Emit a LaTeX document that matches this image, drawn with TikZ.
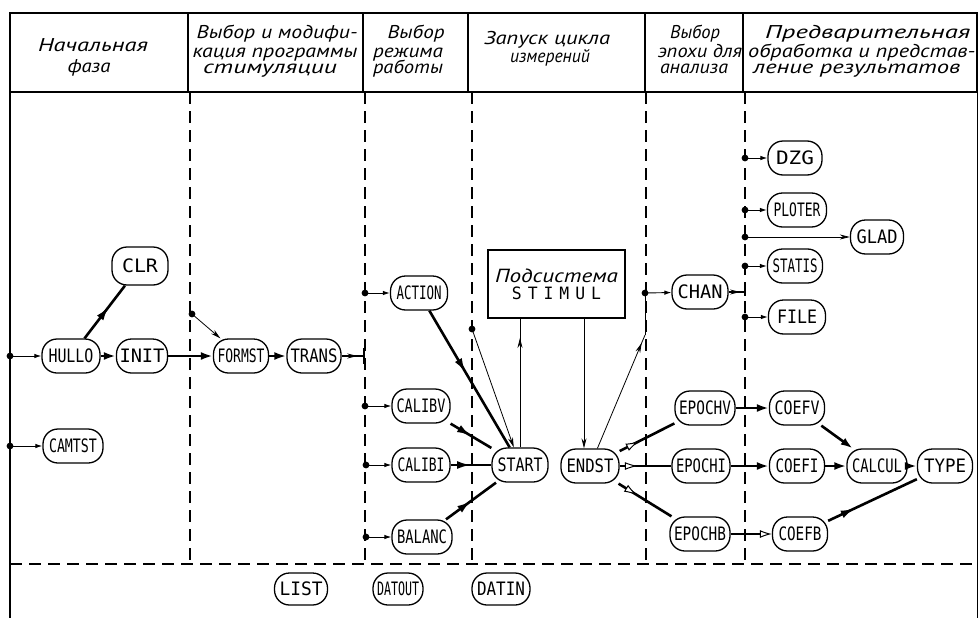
\documentclass[tikz,border=0pt]{standalone}
\usepackage{fontspec}
\usetikzlibrary{arrows.meta,decorations.markings}
\newfontfamily\hdrfont{PT Sans}
\newfontfamily\labfont{DejaVu Sans Mono}
\newfontfamily\stimfont[LetterSpace=35]{DejaVu Sans Mono}
\newsavebox\fitbox
\newcommand{\fitw}[2]{\sbox\fitbox{#2}\pgfmathsetmacro\fitf{#1/\wd\fitbox}\edef\fitcmd{\noexpand\addfontfeature{FakeStretch=\fitf}}{\fitcmd #2}}
\tikzset{
  box/.style={draw, line width=1.3pt, rounded corners=15pt, minimum width=56pt,
    minimum height=34pt, inner xsep=2pt, inner ysep=1pt, font=\labfont\fontsize{18.5}{18}\selectfont},
  hl/.style={anchor=base, inner sep=0pt, font=\hdrfont\itshape\fontsize{18.5}{18}\selectfont},
  hlw/.style={anchor=base west, inner sep=0pt, font=\hdrfont\itshape\fontsize{18.5}{18}\selectfont},
  thk/.style={line width=2.6pt},
  thn/.style={line width=0.8pt},
  med/.style={line width=1.3pt},
  endarr/.style={-{Latex[length=12pt,width=8pt]}},
  endhol/.style={-{Latex[fill=white,length=12pt,width=8pt,line width=1pt]}},
  endthin/.style={-{Stealth[length=10pt,width=5pt]}},
  marrow/.style={postaction={decorate}, decoration={markings,
    mark=at position #1 with {\arrow{Latex[length=14pt,width=8pt]}}}},
  harrow/.style={postaction={decorate}, decoration={markings,
    mark=at position #1 with {\arrow{Latex[fill=white,length=13pt,width=8pt,line width=1pt]}}}},
  tarrow/.style={postaction={decorate}, decoration={markings,
    mark=at position #1 with {\arrow{Stealth[length=10pt,width=5pt]}}}},
  dotln/.style={line width=0.9pt, -{Latex[length=7pt,width=4.5pt]}},
  dashln/.style={line width=1.1pt, dash pattern=on 12pt off 7pt},
  frame/.style={line width=1.4pt}
}
\begin{document}
\begin{tikzpicture}[x=1pt,y=-1pt]
\useasboundingbox (0,0) rectangle (979,618);
\fill[white] (0,0) rectangle (979,618);
% frame
\draw[frame] (10,13) rectangle (977,92);
\foreach \xx in {188,363,468,645,743} \draw[frame] (\xx,13) -- (\xx,92);
\draw[frame] (10,92) -- (10,618);
\draw[line width=0.8pt] (977,92) -- (977,618);
\foreach \xx in {190,365,472,646,745} \draw[dashln] (\xx,92) -- (\xx,564);
\draw[dashln] (10,564) -- (977,564);
% headers
\node[hl] (h1a) at (93,52) {\fitw{110}{Начальная}};
\node[hl] (h1b) at (89,72) {\fitw{43}{фаза}};
\node[hl] (h2a) at (277,39) {\fitw{161}{Выбор и модифи-}};
\node[hl] (h2b) at (275,57) {\fitw{165}{кация программы}};
\node[hl] (h2c) at (270,74) {\fitw{134}{стимуляции}};
\node[hl] (h3a) at (416,39) {\fitw{57}{Выбор}};
\node[hl] (h3b) at (408,57) {\fitw{70}{режима}};
\node[hl] (h3c) at (408,74) {\fitw{70}{работы}};
\node[hl] (h4a) at (547,45) {\fitw{126}{Запуск цикла}};
\node[hl] (h4b) at (550,63) {\fitw{80}{измерений}};
\node[hl] (h5a) at (695,39) {\fitw{50}{Выбор}};
\node[hl] (h5b) at (700,57) {\fitw{84}{эпохи для}};
\node[hl] (h5c) at (694,74) {\fitw{68}{анализа}};
\node[hlw] (h6a) at (765,39) {\fitw{205}{Предварительная}};
\node[hlw] (h6b) at (748,57) {\fitw{227}{обработка и представ-}};
\node[hlw] (h6c) at (753,74) {\fitw{207}{ление результатов}};
% nodes
\node[box, minimum width=58pt] (hullo) at (71,356) {\fitw{45}{HULLO}};
\node[box, minimum width=51pt] (init) at (142,356) {\fitw{45}{INIT}};
\node[box, minimum height=38pt] (clr) at (140,266) {\fitw{36}{CLR}};
\node[box, minimum width=60pt] (camtst) at (73,446) {\fitw{48}{CAMTST}};
\node[box, minimum width=55pt] (formst) at (241,356) {\fitw{47}{FORMST}};
\node[box, minimum width=54pt] (trans) at (314,356) {\fitw{47}{TRANS}};
\node[box, minimum width=57pt] (action) at (419,293) {\fitw{45}{ACTION}};
\node[box, minimum width=58pt] (calibv) at (421,406) {\fitw{49}{CALIBV}};
\node[box, minimum width=58pt] (calibi) at (421,465) {\fitw{47}{CALIBI}};
\node[box, minimum width=60pt] (balanc) at (422,537) {\fitw{50}{BALANC}};
\node[box] (start) at (520,465) {\fitw{45}{START}};
\node[box, minimum width=58pt] (endst) at (590,466) {\fitw{47}{ENDST}};
\node[draw, line width=1.3pt, minimum width=137pt, minimum height=68pt, align=center, inner sep=0pt] (stimul) at (556.5,284)
  {{\hdrfont\itshape\fontsize{19}{19}\selectfont\fitw{123}{Подсистема}}\\[3pt]{\stimfont\fontsize{17}{17}\selectfont\fitw{88}{STIMUL}}};
\node[box] (chan) at (700,292) {\fitw{45}{CHAN}};
\node[box, minimum width=54pt] (dzg) at (795,158) {\fitw{38}{DZG}};
\node[box, minimum width=59pt] (ploter) at (797,210) {\fitw{47}{PLOTER}};
\node[box, minimum width=53pt] (glad) at (877,237) {\fitw{41}{GLAD}};
\node[box, minimum width=55pt] (statis) at (795,266) {\fitw{45}{STATIS}};
\node[box, minimum width=57pt] (file) at (797,317) {\fitw{40}{FILE}};
\node[box, minimum width=60pt] (epochv) at (705,408) {\fitw{52}{EPOCHV}};
\node[box, minimum width=58pt] (epochi) at (701,466) {\fitw{50}{EPOCHI}};
\node[box, minimum width=60pt] (epochb) at (700,534) {\fitw{52}{EPOCHB}};
\node[box, minimum width=55pt] (coefv) at (797,408) {\fitw{45}{COEFV}};
\node[box, minimum width=55pt] (coefi) at (797,466) {\fitw{43}{COEFI}};
\node[box, minimum width=55pt] (coefb) at (800,534) {\fitw{43}{COEFB}};
\node[box, minimum width=60pt] (calcul) at (877,466) {\fitw{50}{CALCUL}};
\node[box, minimum width=55pt] (type) at (945,466) {\fitw{42}{TYPE}};
\node[box, minimum width=53pt, minimum height=32pt] (list) at (301,589) {\fitw{43}{LIST}};
\node[box, minimum width=50pt, minimum height=32pt] (datout) at (398,589) {\fitw{42}{DATOUT}};
\node[box, minimum width=58pt, minimum height=32pt] (datin) at (501,589) {\fitw{48}{DATIN}};
% coordinates (dots, bars, junctions)
\coordinate (dhullo) at (10,356);
\coordinate (dcamtst) at (10,446);
\coordinate (dformst) at (192,314);
\coordinate (btrans) at (364,356);
\coordinate (daction) at (365,293);
\coordinate (dcalibv) at (365,406);
\coordinate (dcalibi) at (366,465);
\coordinate (dbalanc) at (366,537);
\coordinate (dstart) at (472,329);
\coordinate (dchan) at (645,293);
\coordinate (jchan) at (645,335);
\coordinate (bchan) at (745,292);
\coordinate (ddzg) at (745,158);
\coordinate (dploter) at (745,210);
\coordinate (dglad) at (745,237);
\coordinate (dstatis) at (745,266);
\coordinate (dfile) at (745,317);
\foreach \c in {dhullo,dcamtst,dformst,daction,dcalibv,dcalibi,dbalanc,dstart,dchan,ddzg,dploter,dglad,dstatis,dfile}
  \fill (\c) circle (3.4pt);
% bars
\draw[med] ([yshift=8pt]btrans) -- ([yshift=-8pt]btrans);
\draw[med] ([yshift=10pt]bchan) -- ([yshift=-4pt]bchan);
% column 1-2
\draw[dotln] (dhullo) -- (hullo);
\draw[dotln] (dcamtst) -- (camtst);
\draw[thk, marrow=0.6] (hullo) -- (clr);
\draw[thk, endarr] (hullo) -- (init);
\draw[thk, endarr] (init) -- (formst);
\draw[thn, endthin] (dformst) -- (formst);
\draw[thk, endarr] (formst) -- (trans);
\draw[med, tarrow=0.7] (trans) -- (btrans);
% column 3
\draw[dotln] (daction) -- (action);
\draw[dotln] (dcalibv) -- (calibv);
\draw[dotln] (dcalibi) -- (calibi);
\draw[dotln] (dbalanc) -- (balanc);
\draw[thk, marrow=0.45] (action) -- (start);
\draw[thk, marrow=0.5] (calibv) -- (start);
\draw[thk, marrow=0.5] (calibi) -- (start);
\draw[thk, marrow=0.5] (balanc) -- (start);
% column 4
\draw[thn, endthin] (dstart) -- (start);
\draw[thn, tarrow=0.85] (start.north) -- (start.north |- stimul.south);
\draw[thn, endthin] ([xshift=-6pt]endst.north |- stimul.south) -- ([xshift=-6pt]endst.north);
\draw[thn, tarrow=0.93] (endst) -- (jchan);
\draw[thn] (jchan) -- (dchan);
% column 5-6
\draw[dotln] (dchan) -- (chan);
\draw[med, tarrow=0.7] (chan) -- (bchan);
\draw[dotln] (ddzg) -- (dzg);
\draw[dotln] (dploter) -- (ploter);
\draw[thn, endthin] (dglad) -- (glad);
\draw[dotln] (dstatis) -- (statis);
\draw[dotln] (dfile) -- (file);
\draw[thk, harrow=0.35] (endst) -- (epochv);
\draw[thk, harrow=0.35] (endst) -- (epochi);
\draw[thk, harrow=0.35] (endst) -- (epochb);
\draw[thk, endarr] (epochv) -- (coefv);
\draw[thk, endarr] (epochi) -- (coefi);
\draw[thk, endhol] (epochb) -- (coefb);
\draw[thk, endarr] (coefv) -- (calcul);
\draw[thk, endarr] (coefi) -- (calcul);
\draw[thk, endarr] (calcul) -- (type);
\draw[thk, marrow=0.3] (coefb) -- (type);
\end{tikzpicture}
\end{document}
